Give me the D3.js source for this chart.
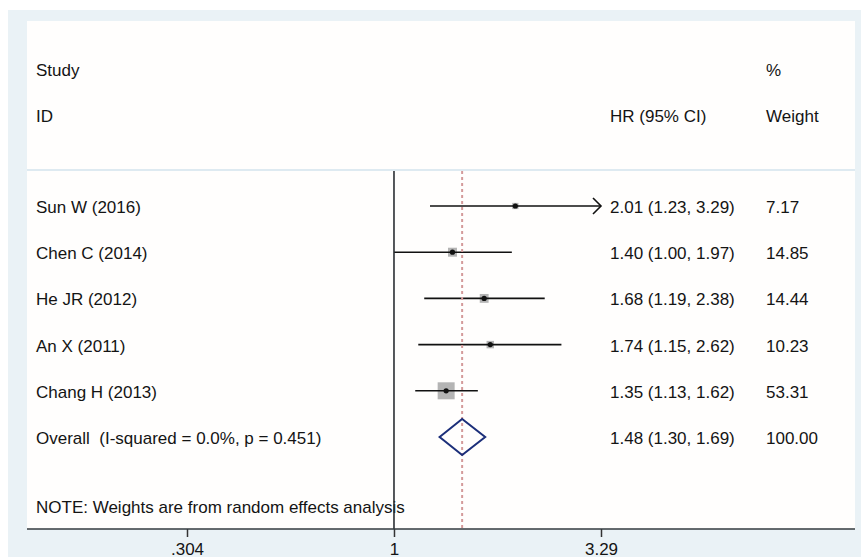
<!DOCTYPE html>
<html>
<head>
<meta charset="utf-8">
<script src="https://cdn.jsdelivr.net/npm/d3@7"></script>
<style>
  body { margin: 0; background: #fff; }
  text { font-family: "Liberation Sans", Arial, sans-serif; font-size: 17px; fill: #141414; white-space: pre; }
</style>
</head>
<body>
<svg width="861" height="557"></svg>
<script>
// forest plot, HR on log scale
const studies = ['Sun W (2016)', 'Chen C (2014)', 'He JR (2012)', 'An X (2011)', 'Chang H (2013)'];
const hr = [2.01, 1.40, 1.68, 1.74, 1.35];
const lower = [1.23, 1.00, 1.19, 1.15, 1.13];
const upper = [3.29, 1.97, 2.38, 2.62, 1.62];
const weights = [7.17, 14.85, 14.44, 10.23, 53.31];

const overallLabel = 'Overall  (I-squared = 0.0%, p = 0.451)';
const overall = [1.48, 1.30, 1.69]; // hr, lower, upper
const overallWeight = '100.00';

const ticks = [0.304, 1, 3.29];
const tickLabels = ['.304', '1', '3.29'];

const svg = d3.select('svg');
const width = +svg.attr('width');
const height = +svg.attr('height');

// backgrounds
svg.append('rect').attr('x', 8).attr('y', 10).attr('width', width - 8).attr('height', height - 10)
  .attr('fill', '#eaf2f6');
svg.append('rect').attr('x', 27).attr('y', 21).attr('width', 828).attr('height', 508)
  .attr('fill', '#fffefd');

const x = d3.scaleLog().domain([ticks[0], ticks[2]]).range([187, 601]);

// rows: 5 studies + overall
const rowY = d3.scalePoint().domain(d3.range(6)).range([206, 437]);

const yTop = 171, yBottom = 529;

// header
const colStudy = 36, colHR = 610, colW = 766;
svg.append('text').attr('x', colStudy).attr('y', 76).text('Study');
svg.append('text').attr('x', colStudy).attr('y', 122).text('ID');
svg.append('text').attr('x', colHR).attr('y', 122).text('HR (95% CI)');
svg.append('text').attr('x', colW).attr('y', 76).text('%');
svg.append('text').attr('x', colW).attr('y', 122).text('Weight');

svg.append('line').attr('x1', 27).attr('x2', 855).attr('y1', 170).attr('y2', 170)
  .attr('stroke', '#d3e3ec').attr('stroke-width', 1.5);

const fmt = d3.format('.2f');
const rows = studies.map((s, i) => ({
  name: s, hr: hr[i], lo: lower[i], hi: upper[i], w: weights[i], i
}));

// row labels
const g = svg.append('g');
g.selectAll('.name').data(rows).enter().append('text')
  .attr('x', colStudy).attr('y', d => rowY(d.i) + 7).text(d => d.name);
g.selectAll('.ci').data(rows).enter().append('text')
  .attr('x', colHR).attr('y', d => rowY(d.i) + 7)
  .text(d => `${fmt(d.hr)} (${fmt(d.lo)}, ${fmt(d.hi)})`);
g.selectAll('.wt').data(rows).enter().append('text')
  .attr('x', colW).attr('y', d => rowY(d.i) + 7).text(d => fmt(d.w));

svg.append('text').attr('x', colStudy).attr('y', rowY(5) + 7).text(overallLabel);
svg.append('text').attr('x', colHR).attr('y', rowY(5) + 7)
  .text(`${fmt(overall[0])} (${fmt(overall[1])}, ${fmt(overall[2])})`);
svg.append('text').attr('x', colW).attr('y', rowY(5) + 7).text(overallWeight);

svg.append('text').attr('x', colStudy).attr('y', 513)
  .text('NOTE: Weights are from random effects analysis');

// weight boxes
const side = d3.scaleSqrt().domain([0, d3.max(weights)]).range([0, 17]);
g.selectAll('.box').data(rows).enter().append('rect')
  .attr('x', d => x(d.hr) - side(d.w) / 2)
  .attr('y', d => rowY(d.i) - side(d.w) / 2)
  .attr('width', d => side(d.w)).attr('height', d => side(d.w))
  .attr('fill', '#b4b4b4');

// null line
svg.append('line').attr('x1', x(1)).attr('x2', x(1)).attr('y1', yTop).attr('y2', yBottom)
  .attr('stroke', '#2b2f33').attr('stroke-width', 1.6);

// overall dashed line
svg.append('line').attr('x1', x(overall[0])).attr('x2', x(overall[0]))
  .attr('y1', yTop).attr('y2', yBottom)
  .attr('stroke', '#d49a9a').attr('stroke-width', 2).attr('stroke-dasharray', '3,3');

// CI lines
const xMax = ticks[2];
g.selectAll('.cil').data(rows).enter().append('line')
  .attr('x1', d => x(d.lo)).attr('x2', d => x(Math.min(d.hi, xMax)))
  .attr('y1', d => rowY(d.i)).attr('y2', d => rowY(d.i))
  .attr('stroke', '#111').attr('stroke-width', 1.6);

// arrows for CIs reaching the axis limit
g.selectAll('.arrow').data(rows.filter(d => d.hi >= xMax)).enter().append('path')
  .attr('d', d => {
    const ax = x(xMax), ay = rowY(d.i);
    return `M${ax - 8},${ay - 8} L${ax},${ay} L${ax - 8},${ay + 8}`;
  })
  .attr('fill', 'none').attr('stroke', '#111').attr('stroke-width', 1.6);

// point estimates
g.selectAll('.pt').data(rows).enter().append('circle')
  .attr('cx', d => x(d.hr)).attr('cy', d => rowY(d.i)).attr('r', 2.6)
  .attr('fill', '#111');

// overall diamond
const dy = rowY(5);
svg.append('path')
  .attr('d', `M${x(overall[1])},${dy} L${x(overall[0])},${dy - 18} L${x(overall[2])},${dy} L${x(overall[0])},${dy + 18} Z`)
  .attr('fill', 'none').attr('stroke', '#1c2f7a').attr('stroke-width', 2);

// x axis
const xAxis = d3.axisBottom(x).tickValues(ticks)
  .tickFormat((d, i) => tickLabels[i]).tickSize(8).tickSizeOuter(0).tickPadding(6);
const axisG = svg.append('g').attr('transform', `translate(0, ${yBottom})`).call(xAxis);
axisG.select('.domain').remove();
axisG.selectAll('.tick line').attr('stroke', '#333').attr('stroke-width', 1.5);
axisG.selectAll('.tick text').attr('font-size', null).attr('font-family', null)
  .attr('fill', '#141414').style('font-size', '17px');
svg.append('line').attr('x1', 27).attr('x2', 855).attr('y1', yBottom).attr('y2', yBottom)
  .attr('stroke', '#333a3e').attr('stroke-width', 1.6);
</script>
</body>
</html>
